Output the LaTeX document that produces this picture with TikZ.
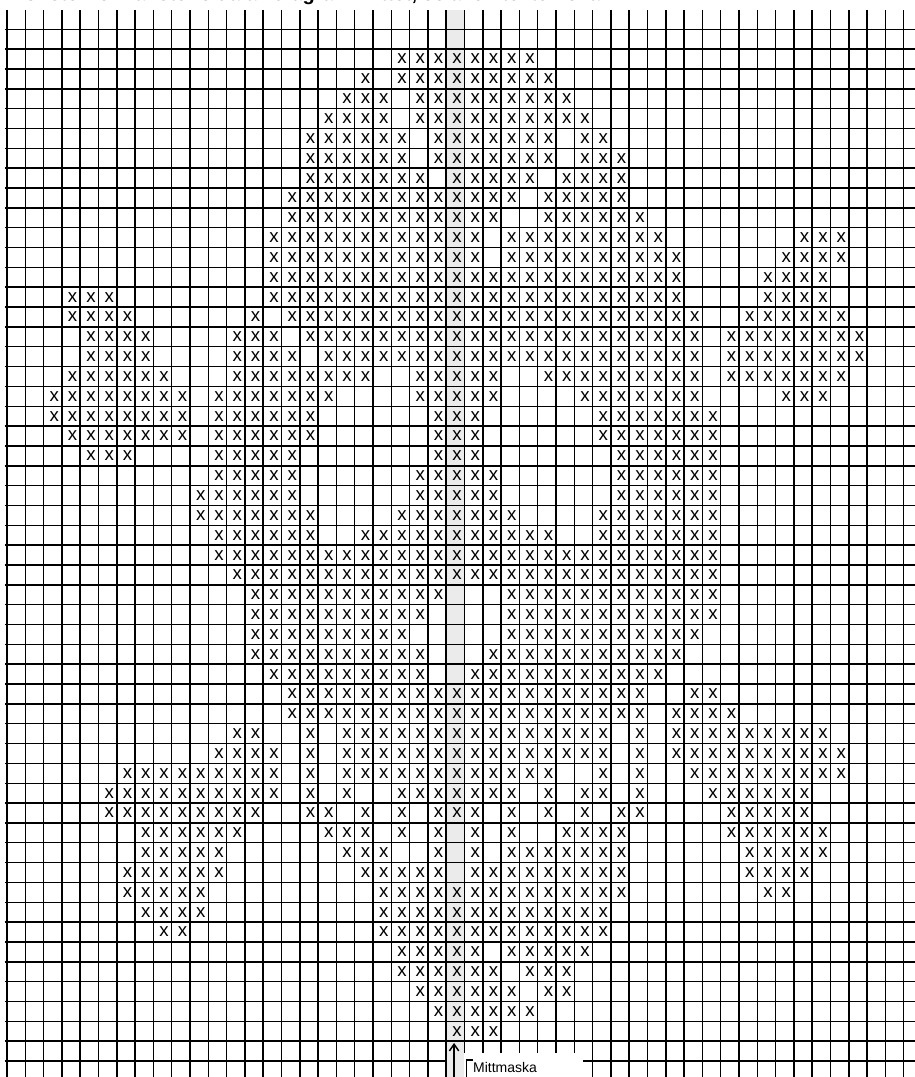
\documentclass[tikz,border=0pt]{standalone}
\usepackage{fontspec}
\setmainfont{Liberation Sans}
\usetikzlibrary{arrows.meta}

\begin{document}
\begin{tikzpicture}[x=13.725pt, y=14.88pt, >={Straight Barb[length=5pt,width=7pt]},
  gridline/.style={line width=1.1pt, black},
  stitch/.style={inner sep=0pt, xshift=1.2pt, font=\fontsize{14}{14}\selectfont}]
\def\gridtop{0.973}
\def\gridbot{-52.807}
\useasboundingbox (-0.3825,\gridbot) rectangle (49.617,1.477);
\clip (-0.3825,\gridbot) rectangle (49.617,1.477);
% heading, cut off by the top edge
\node[anchor=base west, inner sep=0pt, font=\bfseries\fontsize{15}{15}\selectfont] (heading) at (0.05,1.43) {Mönster för vänster sida av diagram mittet, se även texten ovan};
% the middle stitch column
\fill[black!8] (24,\gridbot) rectangle (25,\gridtop);
% grid
\foreach \c in {0,...,49} \draw[gridline] (\c,\gridtop) -- (\c,\gridbot);
\foreach \r in {0,...,51} \draw[gridline] (-0.11,-\r) -- (49.617,-\r);
\draw[gridline] (-0.11,-52) -- (24,-52);
\draw[gridline] (31.48,-52) -- (49.617,-52);
% stitches: row/{first/last,...}
\foreach \r/\segs in {2/{22/29}, 3/{20/20,22/30}, 4/{19/21,23/31}, 5/{18/21,23/32},
  6/{17/22,24/30,32/33}, 7/{17/22,24/30,32/34}, 8/{17/23,25/29,31/34},
  9/{16/28,30/34}, 10/{16/27,30/35}, 11/{15/26,28/36,44/46}, 12/{15/26,28/37,43/46},
  13/{15/37,42/45}, 14/{4/6,15/37,42/45}, 15/{4/7,14/14,16/38,41/46},
  16/{5/8,13/15,17/38,40/47}, 17/{5/8,13/16,18/38,40/47},
  18/{4/9,13/20,23/27,30/38,40/46}, 19/{3/10,12/18,23/27,32/38,43/45},
  20/{3/10,12/17,24/26,33/39}, 21/{4/10,12/17,24/26,33/39}, 22/{5/7,12/16,24/26,34/39},
  23/{12/16,23/27,34/39}, 24/{11/16,23/27,34/39}, 25/{11/17,22/28,33/39},
  26/{12/17,20/30,33/39}, 27/{12/39}, 28/{13/39}, 29/{14/24,28/39}, 30/{14/23,28/39},
  31/{14/22,28/38}, 32/{14/23,27/37}, 33/{15/23,26/36}, 34/{16/35,38/39}, 35/{16/35,37/40},
  36/{13/14,17/17,19/33,35/35,37/45}, 37/{12/15,17/17,19/33,35/35,37/46},
  38/{7/15,17/17,19/30,33/33,35/35,38/46},
  39/{6/15,17/17,19/19,22/28,30/30,32/33,35/35,39/44},
  40/{6/14,17/18,20/20,22/22,24/26,28/28,30/30,32/32,34/35,40/44},
  41/{8/13,18/20,22/22,24/24,26/26,28/28,31/34,40/45},
  42/{8/12,19/21,24/24,26/26,28/34,41/45}, 43/{7/12,20/24,26/34,41/44},
  44/{7/11,21/34,42/43}, 45/{8/11,21/33}, 46/{9/10,21/33}, 47/{22/26,28/32},
  48/{22/27,29/31}, 49/{23/28,30/31}, 50/{24/29}, 51/{25/27}} {
  \foreach \a/\b in \segs {
    \foreach \c in {\a,...,\b}
      \node[stitch] at (\c-0.5,-\r+0.5) {x};
  }
}
% label of the middle stitch
\fill[white] (24.97,\gridbot) rectangle (31.48,-51.6);
\draw[line width=0.8pt] (25.48,-51.95) -- (25.12,-51.95) -- (25.12,\gridbot);
\node[anchor=base west, inner sep=0pt, font=\fontsize{10.5}{10.5}\selectfont] (mitt) at (25.46,-52.59) {Mittmaska};
\coordinate (tail) at (24.43,\gridbot);
\coordinate (tip) at (24.43,-51.09);
\draw[->, line width=1.1pt] (tail) -- (tip);
\end{tikzpicture}
\end{document}
